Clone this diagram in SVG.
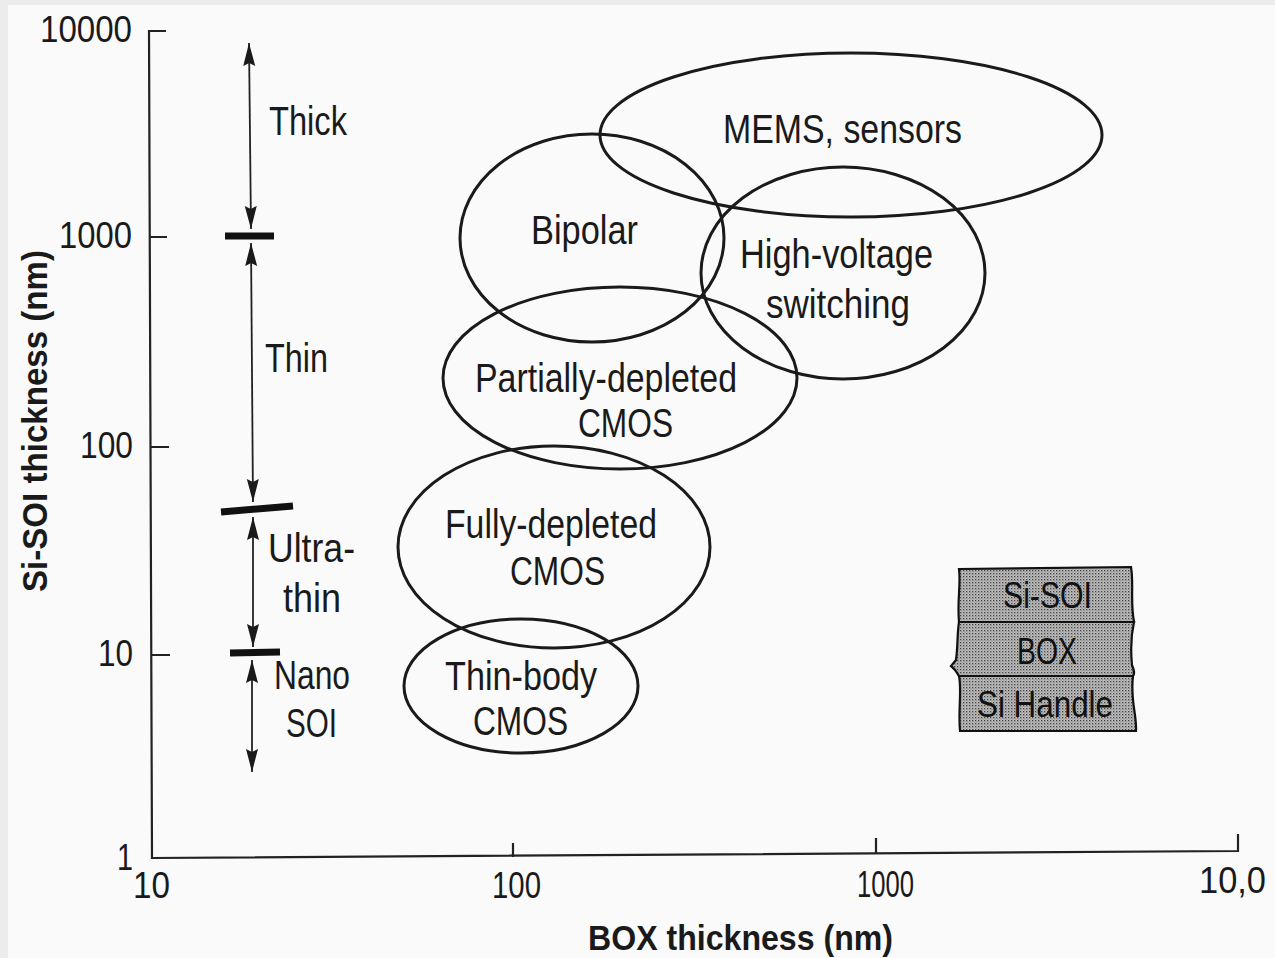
<svg xmlns="http://www.w3.org/2000/svg" width="1275" height="958" viewBox="0 0 1275 958">
<defs>
<style>
.lbl{font-family:"Liberation Sans",Arial,sans-serif;font-size:40px;fill:#1a1a1a}
.num{font-family:"Liberation Sans",Arial,sans-serif;font-size:36px;fill:#1a1a1a}
.ttl{font-family:"Liberation Sans",Arial,sans-serif;font-size:35px;font-weight:bold;fill:#1a1a1a}
.ell{fill:none;stroke:#1a1a1a;stroke-width:3}
.axis{fill:none;stroke:#222;stroke-width:2.2}
.arr{fill:none;stroke:#222;stroke-width:1.8;marker-start:url(#ah);marker-end:url(#ah)}
.bar{stroke:#111;stroke-width:7}
.layer{fill:url(#stip);stroke:#111;stroke-width:2.2}
.lay{font-family:"Liberation Sans",Arial,sans-serif;font-size:37px;fill:#111}
</style>
<marker id="ah" markerUnits="userSpaceOnUse" markerWidth="24" markerHeight="14" viewBox="0 0 24 14" refX="23" refY="7" orient="auto-start-reverse">
<path d="M0,1 L23,7 L0,13 L3,7 Z" fill="#1a1a1a"/>
</marker>
<pattern id="stip" patternUnits="userSpaceOnUse" width="3" height="3">
<rect width="3" height="3" fill="#bcbcbc"/>
<rect x="0" y="0" width="1.3" height="1.3" fill="#444"/>
<rect x="1.5" y="1.5" width="0.9" height="0.9" fill="#6a6a6a"/>
</pattern>
</defs>
<rect width="1275" height="958" fill="#ececec"/>
<rect x="8" y="5" width="1267" height="953" fill="#fafafa"/>

<g id="axes">
<path class="axis" d="M166,31 L149,31 L152,858 L1238,851 L1238,834"/>
<path class="axis" d="M150,237 L167,237 M151,447 L169,447 M151,655 L170,655 M513,857 L513,843 M876,854 L876,838"/>
<text class="num" x="40" y="42" textLength="92" lengthAdjust="spacingAndGlyphs">10000</text>
<text class="num" x="59" y="248" textLength="73" lengthAdjust="spacingAndGlyphs">1000</text>
<text class="num" x="80" y="458" textLength="53" lengthAdjust="spacingAndGlyphs">100</text>
<text class="num" x="98" y="666" textLength="35" lengthAdjust="spacingAndGlyphs">10</text>
<text class="num" x="117" y="870" textLength="16" lengthAdjust="spacingAndGlyphs">1</text>
<text class="num" x="133" y="898" textLength="37" lengthAdjust="spacingAndGlyphs">10</text>
<text class="num" x="492" y="898" textLength="49" lengthAdjust="spacingAndGlyphs">100</text>
<text class="num" x="857" y="897" textLength="57" lengthAdjust="spacingAndGlyphs">1000</text>
<text class="num" x="1199" y="893" textLength="67" lengthAdjust="spacingAndGlyphs">10,0</text>
<text class="ttl" x="588" y="950" textLength="305" lengthAdjust="spacingAndGlyphs">BOX thickness (nm)</text>
<text class="ttl" transform="translate(47,592) rotate(-90)" x="0" y="0" textLength="342" lengthAdjust="spacingAndGlyphs">Si-SOI thickness (nm)</text>
</g>

<g id="connectors">
<line class="arr" x1="251" y1="229" x2="249" y2="43"/>
<line class="bar" x1="225" y1="236" x2="274" y2="236"/>
<line class="arr" x1="251" y1="243" x2="253" y2="502"/>
<line class="bar" x1="221" y1="512" x2="293" y2="506"/>
<line class="arr" x1="253" y1="517" x2="253" y2="647"/>
<line class="bar" x1="230" y1="653" x2="280" y2="652"/>
<line class="arr" x1="252" y1="660" x2="252" y2="772"/>
</g>

<g id="range-labels">
<text class="lbl" x="269" y="135" textLength="78" lengthAdjust="spacingAndGlyphs">Thick</text>
<text class="lbl" x="265" y="372" textLength="63" lengthAdjust="spacingAndGlyphs">Thin</text>
<text class="lbl" x="268" y="562" textLength="87" lengthAdjust="spacingAndGlyphs">Ultra-</text>
<text class="lbl" x="283" y="612" textLength="58" lengthAdjust="spacingAndGlyphs">thin</text>
<text class="lbl" x="274" y="689" textLength="76" lengthAdjust="spacingAndGlyphs">Nano</text>
<text class="lbl" x="286" y="737" textLength="51" lengthAdjust="spacingAndGlyphs">SOI</text>
</g>

<g id="mems">
<ellipse class="ell" cx="851" cy="135" rx="251" ry="82"/>
<text class="lbl" x="723" y="143" textLength="239" lengthAdjust="spacingAndGlyphs">MEMS, sensors</text>
</g>
<g id="bipolar">
<ellipse class="ell" cx="592" cy="238" rx="132" ry="104"/>
<text class="lbl" x="531" y="244" textLength="107" lengthAdjust="spacingAndGlyphs">Bipolar</text>
</g>
<g id="high-voltage">
<ellipse class="ell" cx="843" cy="273" rx="142" ry="106"/>
<text class="lbl" x="740" y="268" textLength="193" lengthAdjust="spacingAndGlyphs">High-voltage</text>
<text class="lbl" x="766" y="318" textLength="144" lengthAdjust="spacingAndGlyphs">switching</text>
</g>
<g id="partially-depleted">
<ellipse class="ell" cx="620" cy="378" rx="177" ry="91"/>
<text class="lbl" x="475" y="392" textLength="262" lengthAdjust="spacingAndGlyphs">Partially-depleted</text>
<text class="lbl" x="578" y="437" textLength="95" lengthAdjust="spacingAndGlyphs">CMOS</text>
</g>
<g id="fully-depleted">
<ellipse class="ell" cx="554" cy="547" rx="156" ry="101"/>
<text class="lbl" x="445" y="538" textLength="212" lengthAdjust="spacingAndGlyphs">Fully-depleted</text>
<text class="lbl" x="510" y="585" textLength="95" lengthAdjust="spacingAndGlyphs">CMOS</text>
</g>
<g id="thin-body">
<ellipse class="ell" cx="521" cy="686" rx="117" ry="67"/>
<text class="lbl" x="445" y="690" textLength="152" lengthAdjust="spacingAndGlyphs">Thin-body</text>
<text class="lbl" x="473" y="735" textLength="95" lengthAdjust="spacingAndGlyphs">CMOS</text>
</g>

<g id="layer-stack">
<path class="layer" d="M959,569 L1131,567 C1134,585 1130,600 1134,622 L959,622 C957,600 961,585 959,569 Z"/>
<path class="layer" d="M959,622 L1134,622 C1130,640 1131,655 1132,665 C1134,670 1135,673 1133,676 L959,676 C957,672 955,669 951,666 L956,660 C958,645 957,635 959,622 Z"/>
<path class="layer" d="M959,676 L1133,676 C1130,700 1137,715 1136,731 L960,731 C958,710 962,690 959,676 Z"/>
<text class="lay" x="1003" y="608" textLength="89" lengthAdjust="spacingAndGlyphs">Si-SOI</text>
<text class="lay" x="1017" y="664" textLength="60" lengthAdjust="spacingAndGlyphs">BOX</text>
<text class="lay" x="977" y="717" textLength="136" lengthAdjust="spacingAndGlyphs">Si Handle</text>
</g>
</svg>
